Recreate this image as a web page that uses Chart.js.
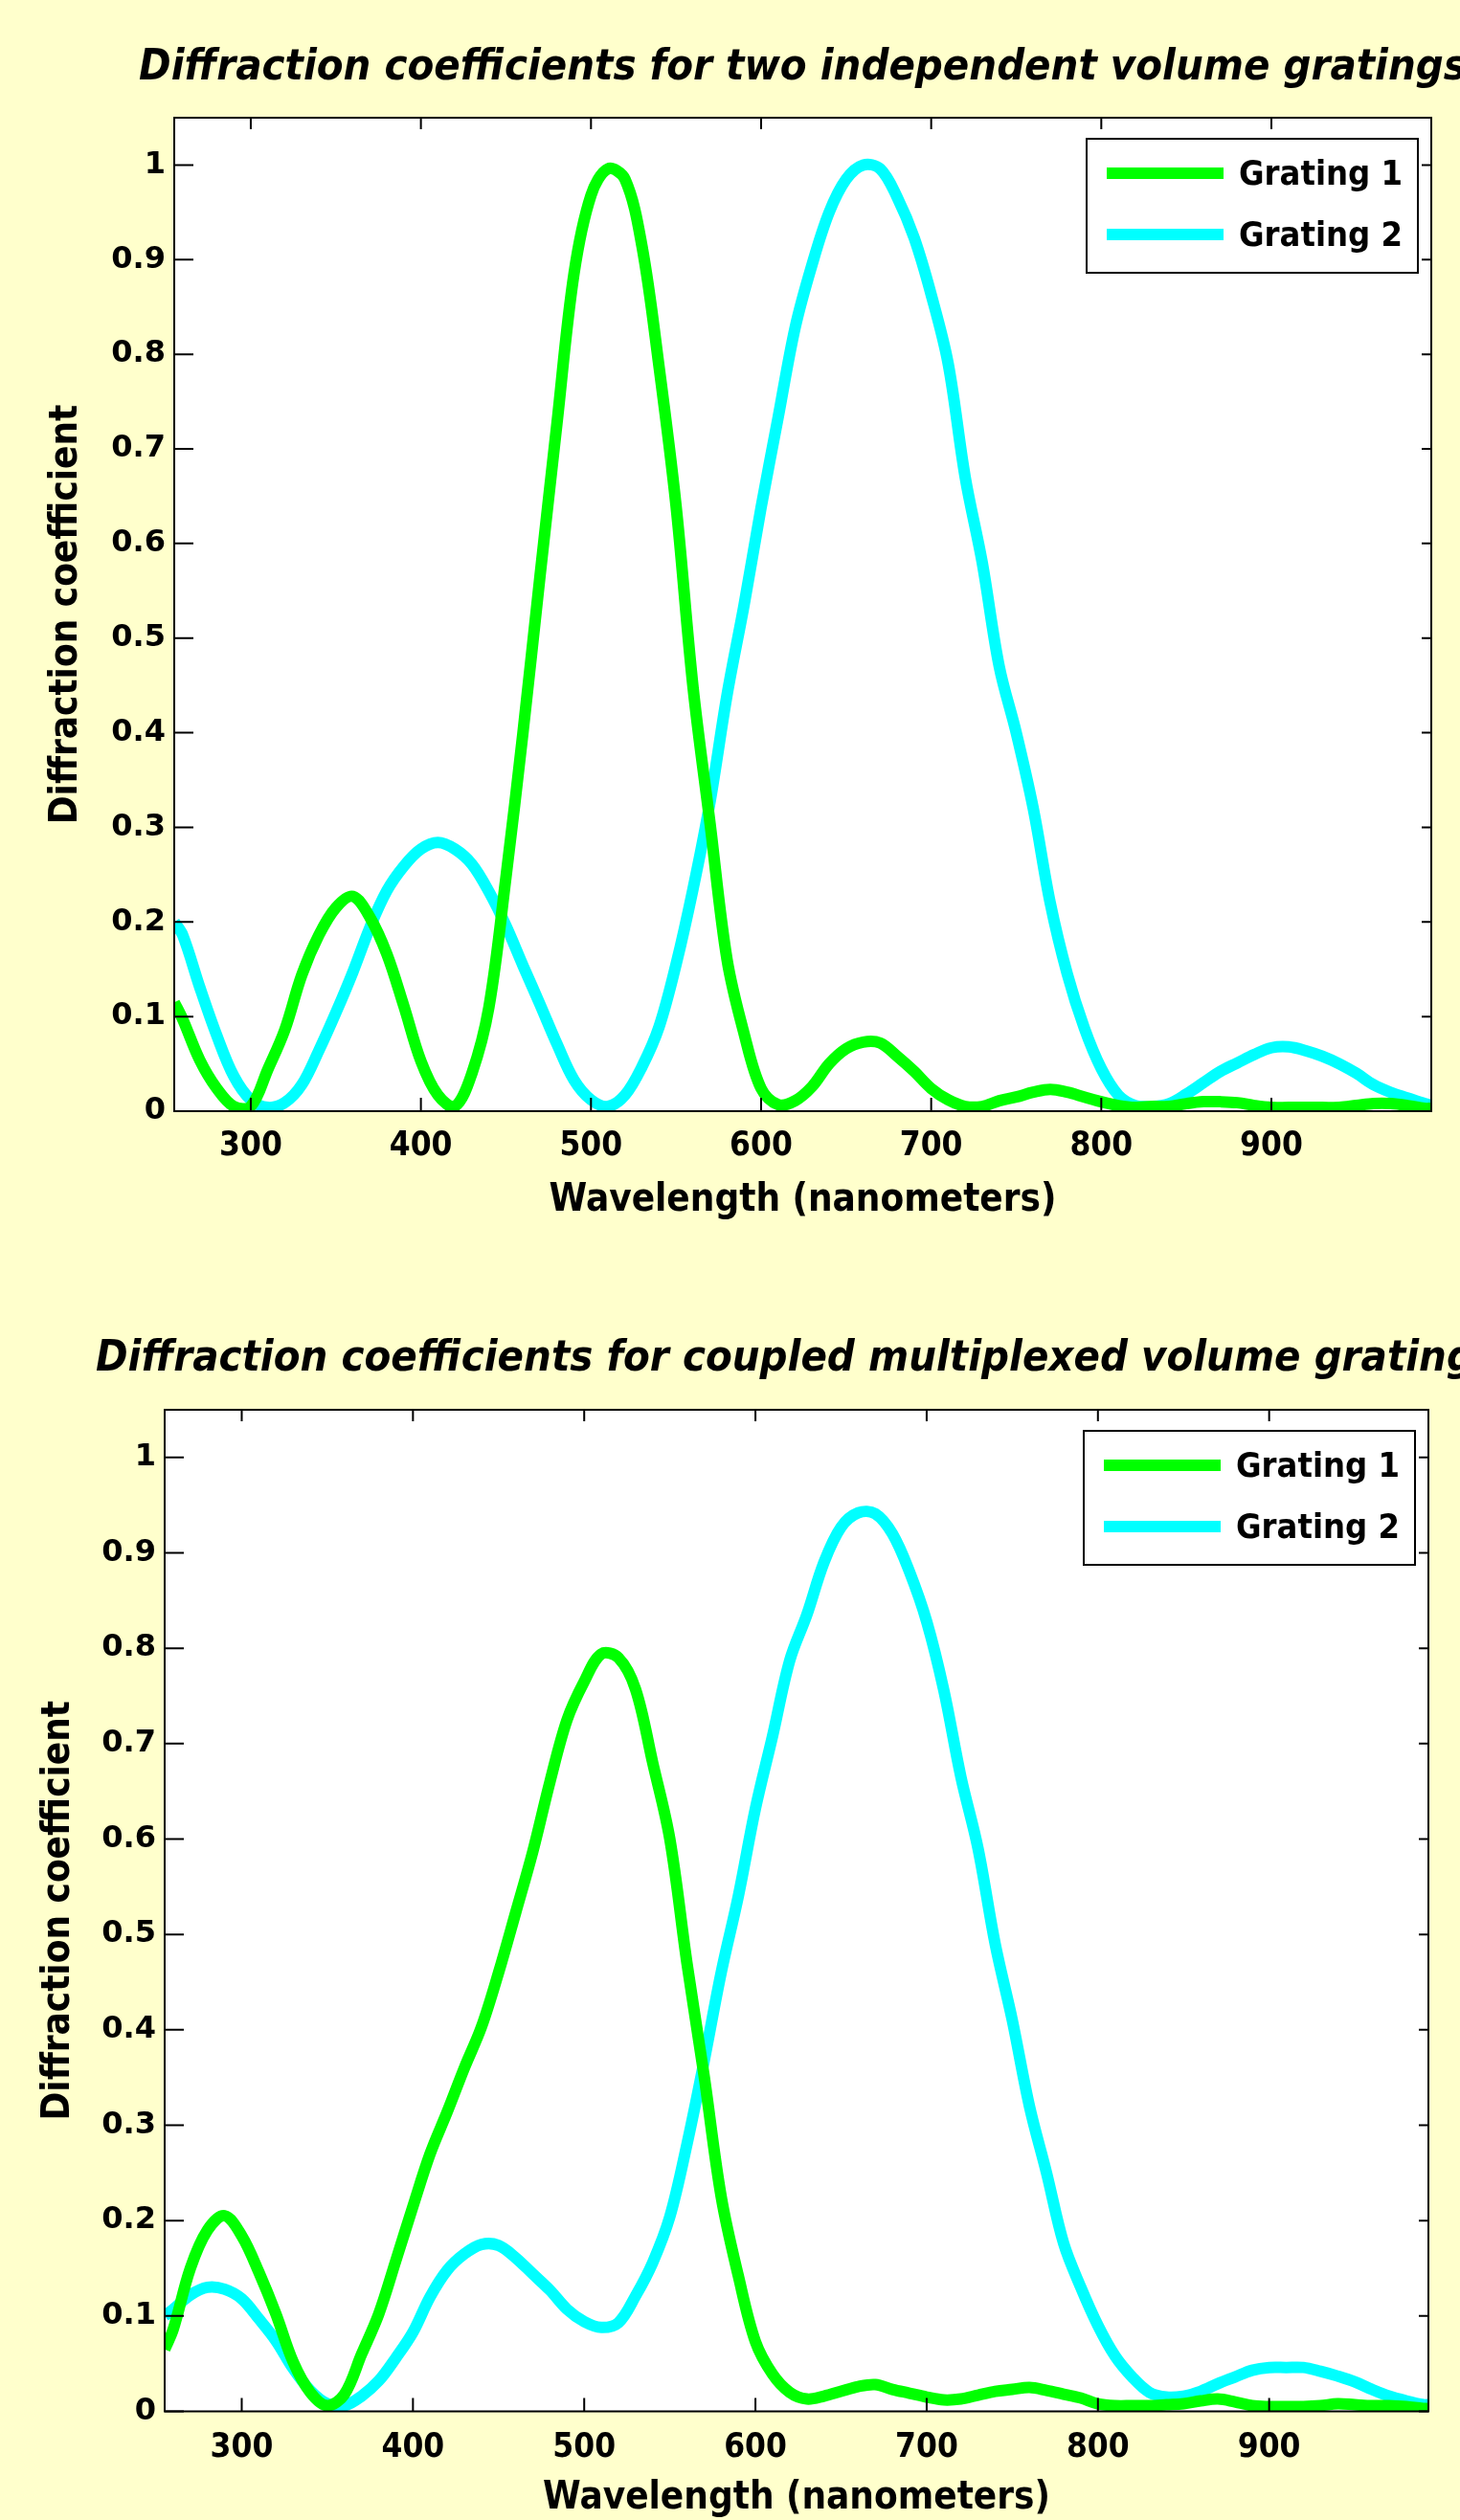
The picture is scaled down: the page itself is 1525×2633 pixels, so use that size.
<!DOCTYPE html>
<html>
<head>
<meta charset="utf-8">
<script src="https://cdn.jsdelivr.net/npm/chart.js@4.4.1/dist/chart.umd.min.js"></script>
<style>
  html, body { margin: 0; padding: 0; background: #ffffcc; overflow: hidden; }
  .panel { position: absolute; left: 0; width: 1525px; }
  #panelTop { top: 0; height: 1316px; }
  #panelBottom { top: 1316px; height: 1317px; }
</style>
</head>
<body>
<div class="panel" id="panelTop"><canvas id="chartTop" width="1525" height="1316"></canvas></div>
<div class="panel" id="panelBottom"><canvas id="chartBottom" width="1525" height="1317"></canvas></div>
<script>
// wavelengths (nm)
const topWavelengths = [255, 260, 270, 280, 290, 300, 310, 320, 330, 340, 350, 360, 370, 380, 390, 400, 410, 420, 430, 440,
  450, 460, 470, 480, 490, 500, 510, 520, 530, 540, 550, 560, 570, 580, 590, 600, 610, 620, 630, 640,
  650, 660, 670, 680, 690, 700, 710, 720, 730, 740, 750, 760, 770, 780, 790, 800, 810, 820, 830, 840,
  850, 860, 870, 880, 890, 900, 910, 920, 930, 940, 950, 960, 970, 980, 990, 994];
const bottomWavelengths = [255, 260, 270, 280, 290, 300, 310, 320, 330, 340, 350, 360, 370, 380, 390, 400, 410, 420, 430, 440,
  450, 460, 470, 480, 490, 500, 510, 520, 530, 540, 550, 560, 570, 580, 590, 600, 610, 620, 630, 640,
  650, 660, 670, 680, 690, 700, 710, 720, 730, 740, 750, 760, 770, 780, 790, 800, 810, 820, 830, 840,
  850, 860, 870, 880, 890, 900, 910, 920, 930, 940, 950, 960, 970, 980, 990, 993];

// two independent gratings
const topGrating1 = [0.115, 0.097, 0.054, 0.024, 0.005, 0.005, 0.044, 0.086, 0.144, 0.186,
  0.215, 0.227, 0.205, 0.166, 0.111, 0.053, 0.017, 0.005, 0.04, 0.11,
  0.247, 0.40, 0.565, 0.727, 0.885, 0.968, 0.996, 0.985, 0.914, 0.787,
  0.64, 0.448, 0.304, 0.16, 0.082, 0.024, 0.007, 0.011, 0.026, 0.05,
  0.066, 0.073, 0.072, 0.058, 0.042, 0.024, 0.012, 0.005, 0.005, 0.011,
  0.015, 0.02, 0.023, 0.02, 0.015, 0.01, 0.006, 0.004, 0.005, 0.005,
  0.008, 0.01, 0.01, 0.009, 0.006, 0.004, 0.004, 0.004, 0.004, 0.004,
  0.006, 0.008, 0.008, 0.006, 0.003, 0.003];
const topGrating2 = [0.2, 0.186, 0.131, 0.08, 0.037, 0.012, 0.004, 0.009, 0.028, 0.064,
  0.104, 0.147, 0.194, 0.233, 0.259, 0.277, 0.284, 0.277, 0.261, 0.232,
  0.196, 0.154, 0.113, 0.071, 0.033, 0.012, 0.005, 0.017, 0.047, 0.089,
  0.155, 0.235, 0.327, 0.44, 0.535, 0.638, 0.733, 0.828, 0.895, 0.95,
  0.985, 1.0, 0.996, 0.966, 0.923, 0.863, 0.79, 0.67, 0.58, 0.47,
  0.40, 0.32, 0.22, 0.145, 0.088, 0.045, 0.017, 0.006, 0.005, 0.008,
  0.018, 0.03, 0.042, 0.051, 0.06, 0.067, 0.068, 0.064, 0.058, 0.05,
  0.04, 0.028, 0.02, 0.014, 0.008, 0.006];

// coupled multiplexed gratings
const bottomGrating1 = [0.065, 0.086, 0.15, 0.19, 0.205, 0.184, 0.146, 0.102, 0.052, 0.02,
  0.006, 0.018, 0.06, 0.102, 0.158, 0.215, 0.27, 0.314, 0.36, 0.403,
  0.46, 0.523, 0.587, 0.66, 0.725, 0.765, 0.794, 0.79, 0.757, 0.68,
  0.60, 0.47, 0.352, 0.225, 0.142, 0.073, 0.039, 0.02, 0.013, 0.016,
  0.021, 0.026, 0.028, 0.023, 0.019, 0.015, 0.012, 0.013, 0.017, 0.021,
  0.023, 0.025, 0.022, 0.018, 0.014, 0.008, 0.006, 0.006, 0.006, 0.007,
  0.008, 0.011, 0.013, 0.01, 0.006, 0.005, 0.005, 0.005, 0.006, 0.008,
  0.007, 0.006, 0.006, 0.005, 0.003, 0.003];
const bottomGrating2 = [0.1, 0.107, 0.122, 0.13, 0.128, 0.118, 0.097, 0.074, 0.045, 0.022,
  0.008, 0.006, 0.016, 0.032, 0.056, 0.083, 0.12, 0.148, 0.165, 0.175,
  0.174, 0.161, 0.144, 0.127, 0.107, 0.094, 0.088, 0.093, 0.121, 0.156,
  0.204, 0.28, 0.367, 0.46, 0.54, 0.632, 0.708, 0.787, 0.835, 0.89,
  0.927, 0.942, 0.941, 0.92, 0.88, 0.828, 0.756, 0.665, 0.59, 0.49,
  0.41, 0.32, 0.25, 0.176, 0.13, 0.09, 0.058, 0.036, 0.02, 0.015,
  0.016, 0.021, 0.029, 0.036, 0.043, 0.046, 0.046, 0.046, 0.042, 0.037,
  0.031, 0.023, 0.016, 0.011, 0.007, 0.007];

const seriesNames = ['Grating 1', 'Grating 2'];
const seriesColors = ['#00ff00', '#00ffff'];
const xTickValues = [300, 400, 500, 600, 700, 800, 900];
const yTickValues = [0, 0.1, 0.2, 0.3, 0.4, 0.5, 0.6, 0.7, 0.8, 0.9, 1];
const yTickLabels = ['0', '0.1', '0.2', '0.3', '0.4', '0.5', '0.6', '0.7', '0.8', '0.9', '1'];
const topTitle = 'Diffraction coefficients for two independent volume gratings';
const bottomTitle = 'Diffraction coefficients for coupled multiplexed volume gratings';
const xLabel = 'Wavelength (nanometers)';
const yLabel = 'Diffraction coefficient';

const condensed = "'DejaVu Sans Condensed', 'DejaVu Sans', sans-serif";

// MATLAB-like frame: page colour, white axes box, inward ticks on all sides, legend, title
const matlabAxes = {
  id: 'matlabAxes',
  beforeDraw(chart, args, opts) {
    const {ctx, chartArea: a} = chart;
    ctx.save();
    ctx.fillStyle = '#ffffcc';
    ctx.fillRect(0, 0, chart.width, chart.height);
    ctx.fillStyle = '#ffffff';
    ctx.fillRect(a.left, a.top, a.right - a.left, a.bottom - a.top);
    ctx.fillStyle = '#000';
    ctx.font = 'italic bold 45px ' + condensed;
    ctx.textAlign = 'center';
    ctx.textBaseline = 'alphabetic';
    ctx.fillText(opts.title, (a.left + a.right) / 2, opts.titleBaseline);
    ctx.restore();
  },
  afterDatasetsDraw(chart, args, opts) {
    const {ctx, chartArea: a, scales: {x, y}} = chart;
    ctx.save();
    ctx.strokeStyle = '#000';
    ctx.lineWidth = 2;
    ctx.beginPath();
    x.ticks.forEach(t => {
      const px = x.getPixelForValue(t.value);
      ctx.moveTo(px, a.bottom);
      ctx.lineTo(px, a.bottom - 14);
      ctx.moveTo(px, a.top);
      ctx.lineTo(px, a.top + 12);
    });
    y.ticks.forEach(t => {
      const py = y.getPixelForValue(t.value);
      ctx.moveTo(a.left, py);
      ctx.lineTo(a.left + 20, py);
      ctx.moveTo(a.right, py);
      ctx.lineTo(a.right - 10, py);
    });
    ctx.stroke();
    ctx.strokeRect(a.left, a.top, a.right - a.left, a.bottom - a.top);

    // legend box in the upper right corner
    const bw = 346, bh = 140;
    const bx = a.right - 14 - bw, by = a.top + 22;
    ctx.fillStyle = '#fff';
    ctx.fillRect(bx, by, bw, bh);
    ctx.strokeRect(bx, by, bw, bh);
    ctx.font = 'bold 36px ' + condensed;
    ctx.textAlign = 'left';
    ctx.textBaseline = 'middle';
    chart.data.datasets.forEach((ds, i) => {
      const ry = by + 36 + i * 64;
      ctx.strokeStyle = ds.borderColor;
      ctx.lineWidth = 12;
      ctx.beginPath();
      ctx.moveTo(bx + 21, ry);
      ctx.lineTo(bx + 143, ry);
      ctx.stroke();
      ctx.fillStyle = '#000';
      ctx.fillText(ds.label, bx + 159, ry + 3);
    });
    ctx.restore();
  }
};

function buildPanel(canvasId, p) {
  const series = [p.g1, p.g2];
  return new Chart(document.getElementById(canvasId), {
    type: 'line',
    data: {
      datasets: series.map((vals, k) => ({
        label: seriesNames[k],
        data: p.wavelengths.map((w, i) => ({x: w, y: vals[i]})),
        borderColor: seriesColors[k],
        backgroundColor: seriesColors[k],
        borderWidth: 12,
        pointRadius: 0,
        fill: false,
        tension: 0.35,
        borderJoinStyle: 'round'
      }))
    },
    options: {
      responsive: false,
      animation: false,
      devicePixelRatio: 1,
      events: [],
      layout: {padding: {top: p.areaTop, right: p.padRight, left: 0, bottom: 0}},
      plugins: {
        legend: {display: false},
        tooltip: {enabled: false},
        matlabAxes: {title: p.title, titleBaseline: p.titleBaseline}
      },
      scales: {
        x: {
          type: 'linear',
          min: p.xMin,
          max: p.xMax,
          afterBuildTicks: s => { s.ticks = xTickValues.map(v => ({value: v})); },
          afterFit: s => { s.height = p.xAxisHeight; },
          grid: {display: false, drawTicks: false},
          border: {display: false},
          ticks: {
            color: '#000', padding: p.xTickPad, autoSkip: false, maxRotation: 0,
            font: {family: condensed, weight: 'bold', size: 35},
            callback: v => String(v)
          },
          title: {
            display: true, text: xLabel, color: '#000',
            font: {family: condensed, weight: 'bold', size: 40},
            padding: {top: 0, bottom: p.xTitlePad}
          }
        },
        y: {
          type: 'linear',
          min: 0,
          max: 1.05,
          afterBuildTicks: s => { s.ticks = yTickValues.map(v => ({value: v})); },
          afterFit: s => { s.width = p.yAxisWidth; },
          grid: {display: false, drawTicks: false},
          border: {display: false},
          ticks: {
            color: '#000', padding: 9, autoSkip: false,
            font: {family: "'DejaVu Sans', sans-serif", weight: 'bold', size: 32},
            callback: (v, i) => yTickLabels[i]
          },
          title: {
            display: true, text: yLabel, color: '#000',
            font: {family: condensed, weight: 'bold', size: 40},
            padding: {top: p.yTitlePad, bottom: 0}
          }
        }
      }
    },
    plugins: [matlabAxes]
  });
}

buildPanel('chartTop', {
  wavelengths: topWavelengths, g1: topGrating1, g2: topGrating2,
  title: topTitle, titleBaseline: 83,
  areaTop: 123, padRight: 30, yAxisWidth: 182, xAxisHeight: 155,
  xMin: 255, xMax: 994, xTickPad: 16, xTitlePad: 37, yTitlePad: 46
});

buildPanel('chartBottom', {
  wavelengths: bottomWavelengths, g1: bottomGrating1, g2: bottomGrating2,
  title: bottomTitle, titleBaseline: 116,
  areaTop: 157, padRight: 33, yAxisWidth: 172, xAxisHeight: 113.5,
  xMin: 255, xMax: 993, xTickPad: 17, xTitlePad: -2, yTitlePad: 38
});
</script>
</body>
</html>
